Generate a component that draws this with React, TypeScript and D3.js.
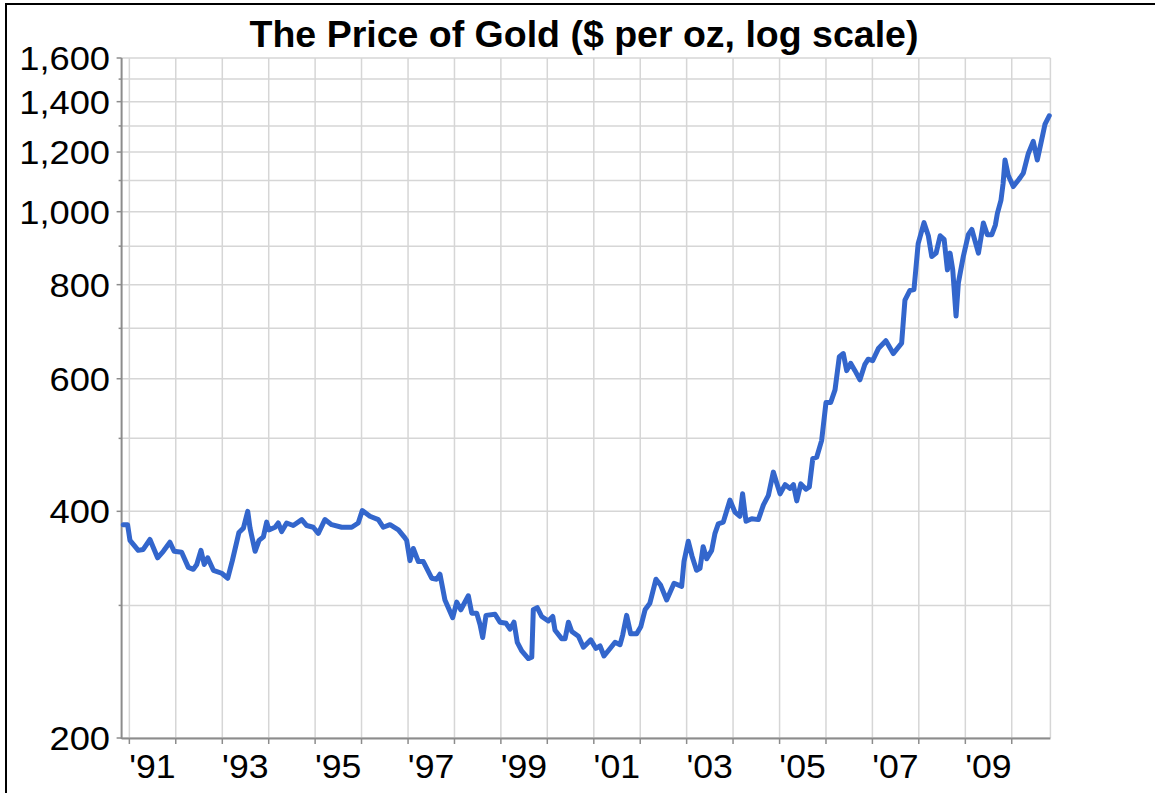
import React from "react";
import * as d3 from "d3";

const titleText = "The Price of Gold ($ per oz, log scale)";

const dates: string[] = [
  "1990-11-14","1990-12-18","1991-01-06","1991-03-12","1991-04-20","1991-06-12","1991-08-11","1991-09-25",
  "1991-11-16","1991-12-19","1992-02-16","1992-04-09","1992-05-18","1992-06-14","1992-07-17","1992-08-12",
  "1992-09-08","1992-10-23","1992-12-27","1993-02-13","1993-03-21","1993-05-12","1993-06-16","1993-07-20",
  "1993-08-07","1993-09-16","1993-10-17","1993-11-20","1993-12-16","1994-01-03","1994-02-20","1994-03-17",
  "1994-04-13","1994-05-22","1994-07-13","1994-09-18","1994-10-27","1994-12-17","1995-01-26","1995-03-19",
  "1995-05-11","1995-07-29","1995-10-16","1995-12-06","1996-01-07","1996-03-07","1996-05-12","1996-06-20",
  "1996-08-12","1996-10-17","1996-12-01","1996-12-21","1997-01-16","1997-02-11","1997-03-23","1997-05-01",
  "1997-07-06","1997-08-14","1997-09-09","1997-10-18","1997-12-18","1998-01-19","1998-02-20","1998-04-20",
  "1998-05-17","1998-06-25","1998-07-21","1998-08-11","1998-09-06","1998-11-16","1998-12-25","1999-02-11",
  "1999-03-14","1999-04-14","1999-05-10","1999-06-14","1999-08-05","1999-09-01","1999-09-13","1999-10-14",
  "1999-11-18","2000-01-09","2000-02-13","2000-03-02","2000-04-23","2000-05-20","2000-06-15","2000-07-12",
  "2000-09-02","2000-10-11","2000-12-08","2001-01-18","2001-02-19","2001-03-22","2001-05-09","2001-06-17",
  "2001-07-26","2001-08-16","2001-09-16","2001-10-18","2001-12-04","2002-01-05","2002-02-08","2002-03-18",
  "2002-05-05","2002-06-11","2002-07-28","2002-09-24","2002-11-23","2002-12-11","2003-01-14","2003-02-12",
  "2003-03-20","2003-04-16","2003-05-11","2003-06-08","2003-07-17","2003-08-12","2003-09-07","2003-10-16",
  "2003-12-08","2004-01-16","2004-02-24","2004-03-16","2004-04-12","2004-05-27","2004-07-18","2004-08-27",
  "2004-10-05","2004-11-13","2004-12-10","2005-01-05","2005-02-14","2005-03-25","2005-04-20","2005-05-16",
  "2005-06-17","2005-07-28","2005-08-23","2005-09-19","2005-10-20","2005-11-28","2006-01-01","2006-02-07",
  "2006-03-13","2006-04-16","2006-05-17","2006-06-13","2006-07-14","2006-08-17","2006-09-25","2006-11-03",
  "2006-11-29","2007-01-03","2007-02-17","2007-04-17","2007-06-14","2007-08-19","2007-09-14","2007-10-23",
  "2007-11-24","2007-12-27","2008-02-11","2008-03-16","2008-04-12","2008-05-16","2008-06-17","2008-07-18",
  "2008-08-13","2008-09-03","2008-09-24","2008-10-20","2008-11-07","2008-12-16","2009-01-25","2009-02-21",
  "2009-04-14","2009-05-23","2009-06-23","2009-07-28","2009-08-25","2009-09-10","2009-10-08","2009-10-25",
  "2009-11-09","2009-12-05","2010-01-13","2010-03-07","2010-04-02","2010-05-11","2010-06-19","2010-07-21",
  "2010-08-24","2010-09-19","2010-10-23"
];

const prices: number[] = [
  384,384,366,355,356,367,347,354,
  364,354,353,337,335,340,355,340,
  347,334,331,326,344,375,380,400,
  380,354,366,370,387,378,381,386,
  376,386,383,390,383,381,374,390,
  384,381,381,386,401,394,390,381,
  384,378,370,366,344,357,343,343,
  326,325,330,305,289,303,296,309,
  293,293,283,272,291,292,285,284,
  279,285,268,261,255,256,296,298,
  290,286,290,278,271,271,285,277,
  273,264,270,263,265,257,263,268,
  266,274,291,275,275,281,296,302,
  325,319,305,321,318,343,365,349,
  334,336,359,346,355,374,385,387,
  414,399,394,422,388,391,390,408,
  420,451,436,422,434,429,434,413,
  435,428,431,470,472,497,558,558,
  580,642,648,615,629,615,598,627,
  637,634,658,674,648,669,763,786,
  788,907,967,929,872,881,929,919,
  837,881,837,727,804,872,933,947,
  881,966,932,932,960,995,1035,1090,
  1171,1117,1080,1109,1125,1194,1240,1171,
  1245,1306,1341
];

const yTickValues: number[] = [200, 300, 400, 500, 600, 700, 800, 900, 1000, 1100, 1200, 1300, 1400, 1500, 1600];
const yLabelValues: number[] = [200, 400, 600, 800, 1000, 1200, 1400, 1600];
const gridYears: number[] = d3.range(1991, 2011);
const labelYears: number[] = [1991, 1993, 1995, 1997, 1999, 2001, 2003, 2005, 2007, 2009];

const W = 1155;
const H = 793;
const left = 121.6;
const right = 1050.4;
const top = 58;
const bottom = 738;

export default function App() {
  const parse = d3.timeParse("%Y-%m-%d");
  const data = dates.map((d, i) => ({ date: parse(d) as Date, value: prices[i] }));

  const x = d3.scaleTime()
    .domain([new Date(1990, 10, 1), new Date(2010, 10, 1)])
    .range([left, right]);
  const y = d3.scaleLog().domain([200, 1600]).range([bottom, top]);

  const line = d3.line<{ date: Date; value: number }>()
    .x(d => x(d.date))
    .y(d => y(d.value))
    .curve(d3.curveLinear);

  const fmt = d3.format(",");
  const labelFont = "'Liberation Sans', Arial, sans-serif";

  return (
    <svg width={W} height={H} style={{ position: "absolute", left: 0, top: 0, background: "#fff" }}>
      <rect x={0} y={0} width={W} height={H} fill="#fff" />
      <rect x={6} y={4} width={W + 20} height={H + 20} fill="none" stroke="#000" strokeWidth={2} />
      <text x={584} y={47} textAnchor="middle" fontFamily={labelFont} fontWeight="bold" fontSize={37.5} fill="#000">
        {titleText}
      </text>
      {yTickValues.map(v => (
        <line key={"hg" + v} x1={left} x2={right} y1={y(v)} y2={y(v)} stroke="#d6d6d6" strokeWidth={1.5} />
      ))}
      {gridYears.map(yr => (
        <line key={"vg" + yr} x1={x(new Date(yr, 0, 1))} x2={x(new Date(yr, 0, 1))} y1={top} y2={bottom} stroke="#d6d6d6" strokeWidth={1.5} />
      ))}
      <line x1={right} x2={right} y1={top} y2={bottom} stroke="#d6d6d6" strokeWidth={1.5} />
      <line x1={left} x2={left} y1={top} y2={bottom + 1} stroke="#8c8c8c" strokeWidth={2} />
      <line x1={left} x2={right} y1={bottom + 0.5} y2={bottom + 0.5} stroke="#8c8c8c" strokeWidth={2} />
      {yTickValues.map(v => {
        const major = yLabelValues.includes(v);
        return (
          <line key={"yt" + v} x1={left - (major ? 5 : 3)} x2={left} y1={y(v)} y2={y(v)} stroke="#8c8c8c" strokeWidth={1.5} />
        );
      })}
      {gridYears.map(yr => (
        <line key={"xt" + yr} x1={x(new Date(yr, 0, 1))} x2={x(new Date(yr, 0, 1))} y1={bottom} y2={bottom + 6} stroke="#8c8c8c" strokeWidth={1.5} />
      ))}
      {yLabelValues.map(v => (
        <text key={"yl" + v} transform={`translate(110,${y(v) + 12}) scale(1.1,1)`} textAnchor="end"
          fontFamily={labelFont} fontSize={33} fill="#000">{fmt(v)}</text>
      ))}
      {labelYears.map(yr => (
        <text key={"xl" + yr} transform={`translate(${x(new Date(yr, 6, 1))},778) scale(1.08,1)`} textAnchor="middle"
          fontFamily={labelFont} fontSize={33} fill="#000">{"'" + String(yr).slice(2)}</text>
      ))}
      <path d={line(data) || ""} fill="none" stroke="#3366cc" strokeWidth={5} strokeLinejoin="round" strokeLinecap="round" />
    </svg>
  );
}
